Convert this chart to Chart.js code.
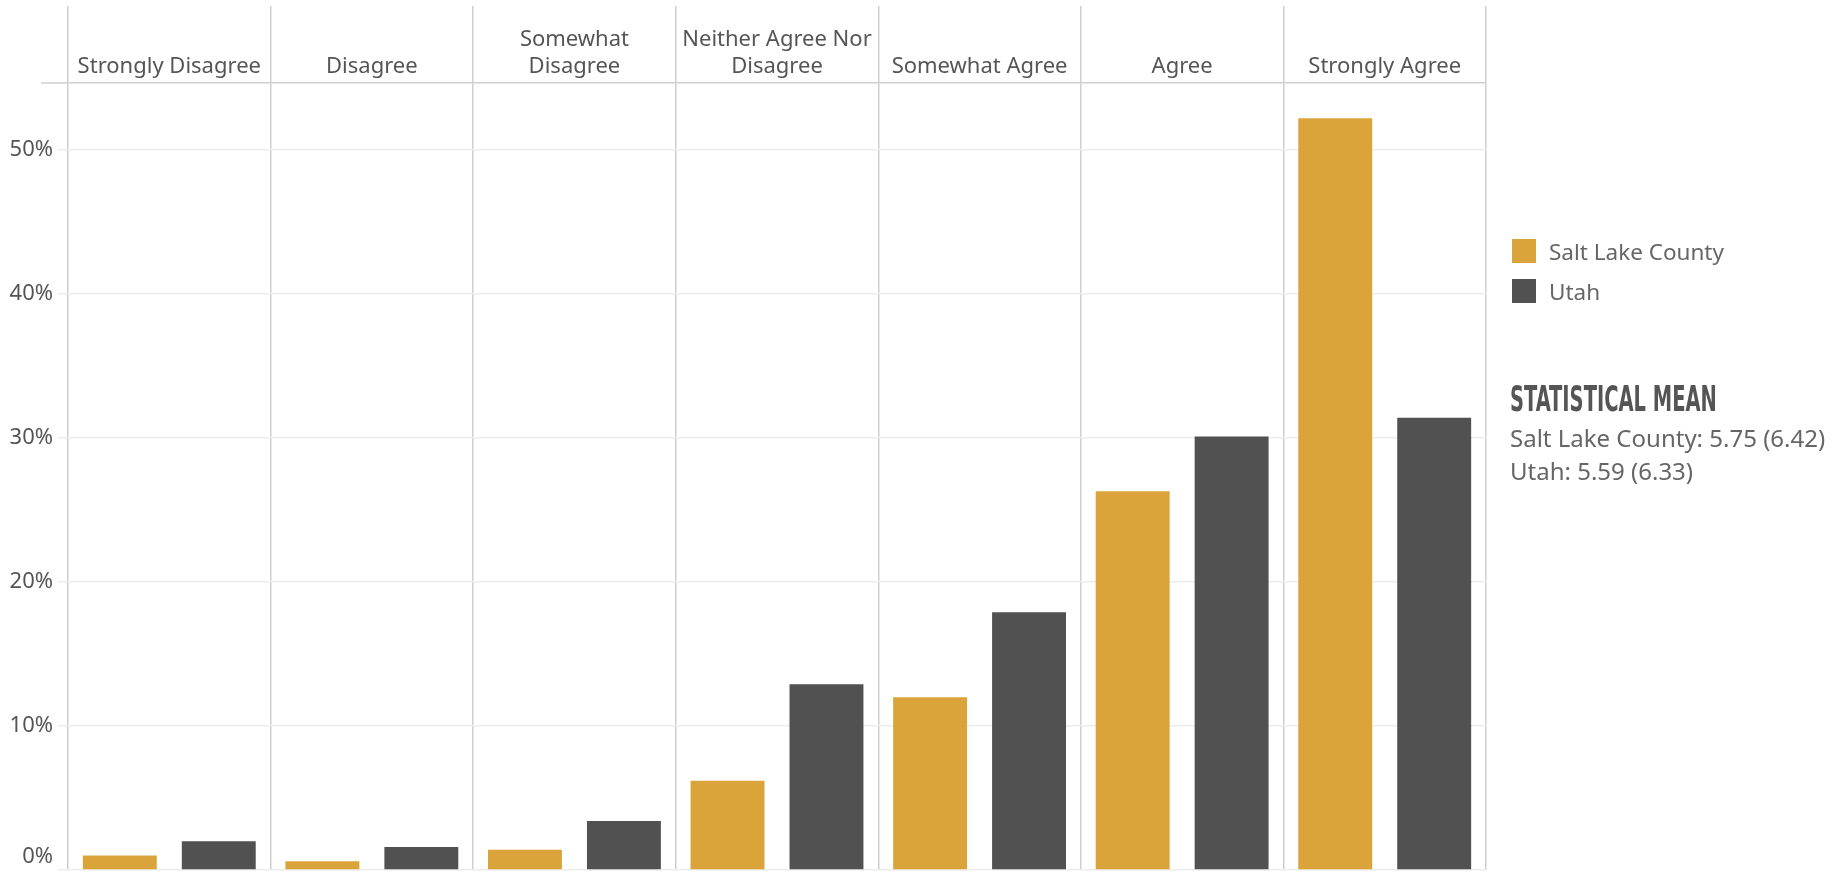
<!DOCTYPE html>
<html>
<head>
<meta charset="utf-8">
<script src="https://cdn.jsdelivr.net/npm/chart.js@4.4.1/dist/chart.umd.min.js"></script>
<style>
    body { margin: 0; background: #fff; }
    #wrap { position: relative; width: 1834px; height: 872px; font-family: "Noto Sans", sans-serif; }
    #surveyChart { position: absolute; left: 0; top: 0; }
    #legend { position: absolute; left: 1512px; top: 231px; }
    .item { display: flex; align-items: center; height: 40px; font-size: 22.5px; color: #666; }
    .swatch { width: 24px; height: 24px; margin-right: 13px; }
    #meanTitle { position: absolute; left: 1510px; top: 381px; font-family: "DejaVu Sans Condensed", "DejaVu Sans", sans-serif;
                 font-weight: bold; font-size: 36px; line-height: 36px; color: #555; white-space: nowrap; transform-origin: left center; }
    #meanText { position: absolute; left: 1510px; top: 421px; font-size: 24px; line-height: 33px; color: #666; white-space: nowrap; }
</style>
</head>
<body>
<div id="wrap">
    <canvas id="surveyChart" width="1834" height="872"></canvas>
    <div id="legend"></div>
    <div id="meanTitle">STATISTICAL MEAN</div>
    <div id="meanText"></div>
</div>
<script>
const categories = [
    "Strongly Disagree",
    "Disagree",
    ["Somewhat", "Disagree"],
    ["Neither Agree Nor", "Disagree"],
    "Somewhat Agree",
    "Agree",
    "Strongly Agree"
];
const saltLake = [1.0, 0.6, 1.4, 6.2, 12.0, 26.3, 52.2];
const utah = [2.0, 1.6, 3.4, 12.9, 17.9, 30.1, 31.4];
const seriesNames = ["Salt Lake County", "Utah"];
const seriesColors = ["#dba43a", "#525152"];
const meanLines = ["Salt Lake County: 5.75 (6.42)", "Utah: 5.59 (6.33)"];

// header rule runs a bit past the y axis, like the original layout
const headerRule = {
    id: "headerRule",
    afterDraw(chart) {
        const { ctx, chartArea } = chart;
        ctx.save();
        ctx.strokeStyle = "#cfcfcf";
        ctx.lineWidth = 1.5;
        ctx.beginPath();
        ctx.moveTo(chartArea.left - 27, chartArea.top);
        ctx.lineTo(chartArea.left, chartArea.top);
        ctx.stroke();
        ctx.restore();
    }
};

document.addEventListener("DOMContentLoaded", () => {

    /*CHART*/
    new Chart(document.getElementById("surveyChart"), {
        type: "bar",
        data: {
            labels: categories,
            datasets: [{
                label: seriesNames[0],
                data: saltLake,
                backgroundColor: seriesColors[0]
            }, {
                label: seriesNames[1],
                data: utah,
                backgroundColor: seriesColors[1]
            }]
        },
        options: {
            responsive: false,
            animation: false,
            devicePixelRatio: 1,
            categoryPercentage: 0.977,
            barPercentage: 0.747,
            layout: { padding: { left: 0, top: 0, right: 348, bottom: 2 } },
            plugins: { legend: { display: false }, tooltip: { enabled: false } },
            scales: {
                x: {
                    position: "top",
                    offset: true,
                    grid: { offset: true, color: "#cfcfcf", lineWidth: 1.5, tickLength: 77 },
                    border: { display: true, color: "#cfcfcf", width: 1.5 },
                    ticks: {
                        padding: -74,
                        maxRotation: 0,
                        autoSkip: false,
                        color: "#555",
                        font: { family: "Noto Sans", size: 22, lineHeight: 1.22 }
                    },
                    afterFit: s => { s.height = 83; s.paddingLeft = 0; s.paddingRight = 0; }
                },
                y: {
                    min: 0,
                    max: 54.65,
                    grid: { color: "#ececec", lineWidth: 1.5, tickLength: 10 },
                    border: { display: false },
                    ticks: {
                        stepSize: 10,
                        includeBounds: false,
                        padding: 5,
                        color: "#555",
                        font: { family: "Noto Sans", size: 22, lineHeight: 1.2 },
                        callback: v => v === 0 ? ["0%", ""] : v + "%"
                    },
                    afterFit: s => { s.width = 68; s.paddingTop = 0; s.paddingBottom = 0; }
                }
            }
        },
        plugins: [headerRule]
    });

    /*LEGEND*/
    const legend = document.getElementById("legend");
    seriesNames.forEach((name, i) => {
        const row = document.createElement("div");
        row.className = "item";
        row.innerHTML = '<span class="swatch" style="background:' + seriesColors[i] + '"></span>' + name;
        legend.appendChild(row);
    });

    /*STATISTICAL MEAN*/
    document.getElementById("meanText").innerHTML = meanLines.join("<br>");
    const title = document.getElementById("meanTitle");
    title.style.transform = "scaleX(" + (207 / title.offsetWidth) + ")";

});
</script>
</body>
</html>
